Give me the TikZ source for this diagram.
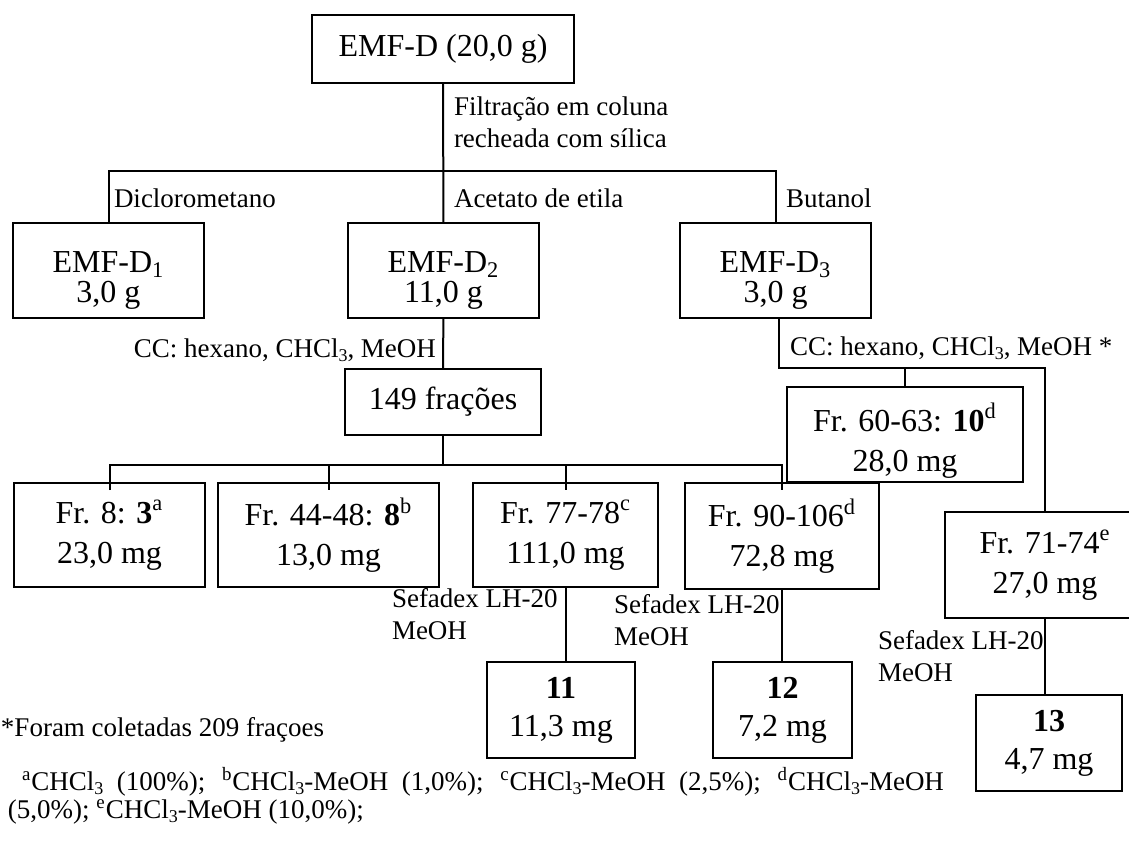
\documentclass[tikz,border=0pt]{standalone}
\usepackage{fontspec}
\setmainfont{Liberation Serif}
\usetikzlibrary{positioning,calc}
\newcommand{\alto}{\rule{0pt}{20pt}}
\newcommand{\ind}[1]{\raisebox{-0.3ex}{\fontsize{9}{9}\selectfont #1}}
\tikzset{
  caixa/.style={draw, line width=1pt, inner sep=0pt, align=center, font=\fontsize{16}{20}\selectfont},
  caixaD/.style={caixa, minimum width=95.5pt, minimum height=47.5pt, font=\fontsize{16}{15}\selectfont},
  caixaC/.style={caixa, minimum height=48pt, font=\fontsize{16}{19}\selectfont},
  rotulo/.style={inner sep=0pt, anchor=west, align=left, font=\fontsize{13.5}{16}\selectfont},
}
\begin{document}
\begin{tikzpicture}[x=0.5pt,y=-0.5pt,line width=1pt]
\useasboundingbox (0,0) rectangle (1129,848);
\node[caixa, minimum width=131pt, minimum height=34pt] (emf) at (443,49) {EMF-D (20,0 g)};
\node[caixaD] (d1) at (108.5,270.5) {\alto EMF-D\textsubscript{1}\\3,0 g};
\node[caixaD] (d2) at (443.5,270.5) {\alto EMF-D\textsubscript{2}\\11,0 g};
\node[caixaD] (d3) at (775.5,270.5) {\alto EMF-D\textsubscript{3}\\3,0 g};
\node[caixa, minimum width=98pt, minimum height=33pt] (f149) at (443,402) {149 frações};
\node[caixa, minimum width=95.5pt, minimum height=52pt] (fr8) at (109.5,535) {Fr. 8: \textbf{3}\textsuperscript{a}\\23,0 mg};
\node[caixa, minimum width=110.5pt, minimum height=52pt] (fr44) at (328.5,535) {Fr. 44-48: \textbf{8}\textsuperscript{b}\\13,0 mg};
\node[caixa, minimum width=92.5pt, minimum height=52pt] (fr77) at (565.5,535) {Fr. 77-78\textsuperscript{c}\\111,0 mg};
\node[caixa, minimum width=97pt, minimum height=53pt] (fr90) at (782,536) {Fr. 90-106\textsuperscript{d}\\72,8 mg};
\node[caixa, minimum width=118pt, minimum height=47.5pt] (fr60) at (905,434.5) {\alto Fr. 60-63: \textbf{10}\textsuperscript{d}\\28,0 mg};
\node[caixa, minimum width=100pt, minimum height=53pt] (fr71) at (1045,565) {Fr. 71-74\textsuperscript{e}\\27,0 mg};
\node[caixaC, minimum width=74pt] (c11) at (561,710) {\textbf{11}\\11,3 mg};
\node[caixaC, minimum width=69.5pt] (c12) at (782.5,710) {\textbf{12}\\7,2 mg};
\node[caixaC, minimum width=73pt] (c13) at (1049,743) {\textbf{13}\\4,7 mg};

\coordinate (barra) at (445,171);
\coordinate (barra2) at (445,465);
\coordinate (barra3) at (779,368);
\draw (emf) -- (d2);
\draw (d1.north) -- (d1.north |- barra) -- (d3.north |- barra) -- (d3.north);
\draw (d2) -- (f149);
\draw (f149) -- (f149 |- barra2);
\draw ([yshift=-4pt]fr8.north) -- (fr8.north |- barra2) -- (fr90.north |- barra2) -- ([yshift=-4pt]fr90.north);
\draw (fr44.north |- barra2) -- ([yshift=-4pt]fr44.north);
\draw (fr77.north |- barra2) -- ([yshift=-4pt]fr77.north);
\draw (d3.south -| barra3) -- (barra3) -- (fr71.north |- barra3) -- (fr71.north);
\draw (fr60.north |- barra3) -- (fr60.north);
\draw (fr77.south) -- (fr77.south |- c11.north);
\draw (fr90.south) -- (fr90.south |- c12.north);
\draw (fr71.south) -- (fr71.south |- c13.north);

\node[rotulo] (filt) at (453,122) {Filtração em coluna\\recheada com sílica};
\node[rotulo] (dcm) at (113,198) {Diclorometano};
\node[rotulo] (acet) at (453,198) {Acetato de etila};
\node[rotulo] (but) at (785,198) {Butanol};
\node[rotulo, anchor=east] (cc1) at (437,350) {CC: hexano, CHCl\ind{3}, MeOH};
\node[rotulo] (cc2) at (789,348) {CC: hexano, CHCl\ind{3}, MeOH *};
\node[rotulo] (sef1) at (391,614) {Sefadex LH-20\\MeOH};
\node[rotulo] (sef2) at (613,620) {Sefadex LH-20\\MeOH};
\node[rotulo] (sef3) at (877,656) {Sefadex LH-20\\MeOH};
\node[rotulo] (nota) at (0,730) {*Foram coletadas 209 fraçoes};
\node[rotulo] (nota1) at (21,782) {\makebox[461pt][s]{\textsuperscript{a}CHCl\ind{3} (100\%); \textsuperscript{b}CHCl\ind{3}-MeOH (1,0\%); \textsuperscript{c}CHCl\ind{3}-MeOH (2,5\%); \textsuperscript{d}CHCl\ind{3}-MeOH}};
\node[rotulo] (nota2) at (7,812) {(5,0\%); \textsuperscript{e}CHCl\ind{3}-MeOH (10,0\%);};
\end{tikzpicture}
\end{document}
